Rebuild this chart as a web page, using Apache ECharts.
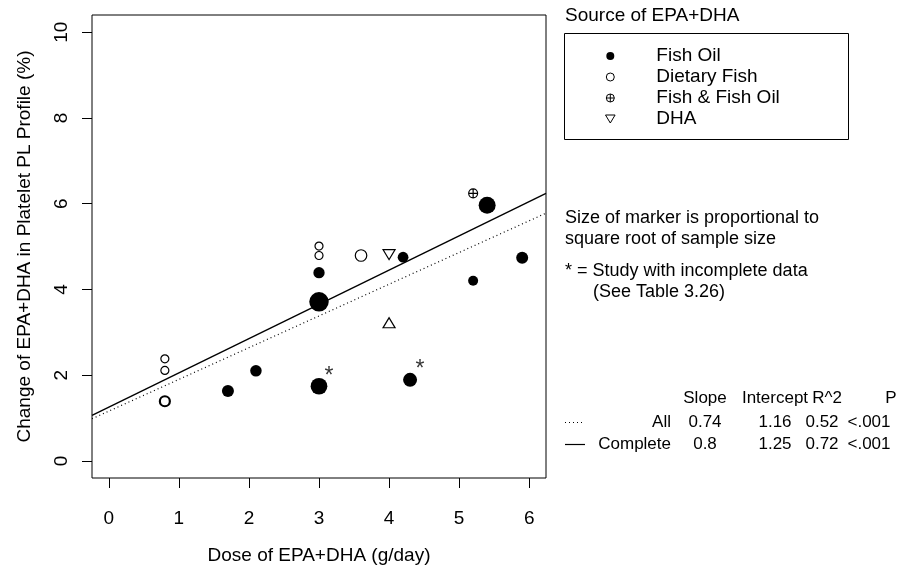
<!DOCTYPE html>
<html lang="en">
<head>
<meta charset="UTF-8">
<title>EPA+DHA dose vs platelet change</title>
<script src="https://cdn.jsdelivr.net/npm/echarts@6.0.0/dist/echarts.min.js"></script>
<style>html,body{margin:0;padding:0;background:#fff;}</style>
</head>
<body>
<div id="main" style="width:911px;height:569px;"></div>
<script>
// tick labels
const xTicks = [0, 1, 2, 3, 4, 5, 6];
const yTicks = [0, 2, 4, 6, 8, 10];

// Fish oil studies: dose (g/day), change (%), sample size
const fishOilX = [5.4, 4.2, 5.9, 5.2, 3.0, 3.0, 1.7, 2.1, 3.0, 4.3];
const fishOilY = [5.96, 4.75, 4.74, 4.20, 4.39, 3.71, 1.63, 2.10, 1.74, 1.89];
const fishOilN = [72, 29, 36, 25, 32, 95, 36, 33, 70, 49];
const fishOilIncomplete = [false, false, false, false, false, false, false, false, true, true];

// Dietary fish studies
const dietX = [3.0, 3.0, 3.6, 0.8, 0.8, 0.8];
const dietY = [5.01, 4.79, 4.79, 2.38, 2.11, 1.39];
const dietN = [16, 16, 33, 16, 16, 25];

// Fish & fish oil
const bothX = [5.2];
const bothY = [6.24];
const bothN = [20];

// DHA (down triangle) and the one up-triangle study
const dhaX = [4.0];
const dhaY = [4.81];
const otherX = [4.0];
const otherY = [3.22];

// regression table
const regNames = ['All', 'Complete'];
const regSlope = [0.74, 0.8];
const regIntercept = [1.16, 1.25];
const regR2 = ['0.52', '0.72'];
const regP = ['<.001', '<.001'];

const FONT = '"Liberation Sans", Arial, Helvetica, sans-serif';
const FS = 19;       // axis text, legend
const FS_NOTE = 18;  // notes
const FS_TABLE = 17; // regression table
const SIZE_K = 2;    // marker diameter = SIZE_K * sqrt(n)
const BOLD_RING_INDEX = 5;

// R style axis range: 4% padding on each side
const xSpan = xTicks[xTicks.length - 1] - xTicks[0];
const ySpan = yTicks[yTicks.length - 1] - yTicks[0];
const xMin = xTicks[0] - 0.04 * xSpan;
const xMax = xTicks[xTicks.length - 1] + 0.04 * xSpan;
const yMin = yTicks[0] - 0.04 * ySpan;
const yMax = yTicks[yTicks.length - 1] + 0.04 * ySpan;

const zip3 = (xs, ys, ns) => xs.map((x, i) => [x, ys[i], ns ? ns[i] : 1]);
const sizeFn = v => SIZE_K * Math.sqrt(v[2]);

const dietData = zip3(dietX, dietY, dietN).map((v, i) => (
    i === BOLD_RING_INDEX ? { value: v, itemStyle: { borderWidth: 2.2 } } : v
));
const starData = zip3(fishOilX, fishOilY).filter((v, i) => fishOilIncomplete[i]);

// regression lines across the whole plot width
const regLine = k => [[xMin, regIntercept[k] + regSlope[k] * xMin], [xMax, regIntercept[k] + regSlope[k] * xMax]];

const crossCircle = 'path://M10,0A10,10,0,1,1,10,20A10,10,0,1,1,10,0ZM10,0L10,20M0,10L20,10';
const triDown = 'path://M0,0L12,0L6,10Z';
const triUp = 'path://M6,0L12,10L0,10Z';

function txt(x, y, s, align, size, extra) {
    return Object.assign({
        type: 'text', x: x, y: y, silent: true,
        style: { text: s, fill: '#000', font: (size || FS) + 'px ' + FONT,
                 textAlign: align || 'left', align: align || 'left',
                 textVerticalAlign: 'middle', verticalAlign: 'middle' }
    }, extra || {});
}

const graphics = [
    txt(319, 556, 'Dose of EPA+DHA (g/day)', 'center'),
    txt(25, 246.5, 'Change of EPA+DHA in Platelet PL Profile (%)', 'center', FS, { rotation: Math.PI / 2 }),
    txt(565, 16, 'Source of EPA+DHA'),
    { type: 'rect', silent: true, shape: { x: 564.5, y: 33.5, width: 284, height: 106 },
      style: { fill: 'none', stroke: '#000', lineWidth: 1 } },
    txt(565, 218.5, 'Size of marker is proportional to', 'left', FS_NOTE),
    txt(565, 239.5, 'square root of sample size', 'left', FS_NOTE),
    txt(565, 271.5, '* = Study with incomplete data', 'left', FS_NOTE),
    txt(593, 292.5, '(See Table 3.26)', 'left', FS_NOTE),
    // table header
    txt(705, 398, 'Slope', 'center', FS_TABLE),
    txt(775, 398, 'Intercept', 'center', FS_TABLE),
    txt(827, 398, 'R^2', 'center', FS_TABLE),
    txt(891, 398, 'P', 'center', FS_TABLE),
    { type: 'line', silent: true, shape: { x1: 565, y1: 422.5, x2: 583, y2: 422.5 },
      style: { stroke: '#000', lineWidth: 1, lineDash: [1, 3] } },
    { type: 'line', silent: true, shape: { x1: 565, y1: 444.5, x2: 585, y2: 444.5 },
      style: { stroke: '#000', lineWidth: 1.2 } }
];
const rowY = [422, 444];
regNames.forEach((name, k) => {
    graphics.push(txt(671, rowY[k], name, 'right', FS_TABLE));
    graphics.push(txt(705, rowY[k], String(regSlope[k]), 'center', FS_TABLE));
    graphics.push(txt(775, rowY[k], regIntercept[k].toFixed(2), 'center', FS_TABLE));
    graphics.push(txt(822, rowY[k], regR2[k], 'center', FS_TABLE));
    graphics.push(txt(869, rowY[k], regP[k], 'center', FS_TABLE));
});

const myChart = echarts.init(document.getElementById('main'), null, { renderer: 'canvas' });

const openStyle = { color: 'transparent', borderColor: '#000', borderWidth: 1.2, opacity: 1 };

myChart.setOption({
    animation: false,
    backgroundColor: '#fff',
    textStyle: { fontFamily: FONT },
    grid: { left: 92, top: 15, right: 365, bottom: 91, show: true,
            borderColor: '#000', borderWidth: 1, backgroundColor: 'transparent' },
    xAxis: {
        type: 'value', min: xMin, max: xMax,
        splitLine: { show: false },
        axisLine: { show: false, onZero: false },
        axisTick: { show: true, inside: false, length: 10, customValues: xTicks,
                    lineStyle: { color: '#000', width: 1 } },
        axisLabel: { customValues: xTicks, margin: 31, color: '#000', fontSize: FS, fontFamily: FONT }
    },
    yAxis: {
        type: 'value', min: yMin, max: yMax,
        splitLine: { show: false },
        axisLine: { show: false, onZero: false },
        axisTick: { show: true, inside: false, length: 10, customValues: yTicks,
                    lineStyle: { color: '#000', width: 1 } },
        axisLabel: { customValues: yTicks, rotate: 90, margin: 21, color: '#000', fontSize: FS, fontFamily: FONT }
    },
    legend: {
        orient: 'vertical', left: 605, top: 45.5, padding: 0, itemGap: 0,
        itemWidth: 10, itemHeight: 8,
        textStyle: { color: '#000', fontSize: FS, fontFamily: FONT, lineHeight: 21, padding: [0, 0, 0, 36] },
        selectedMode: false,
        data: [
            { name: 'Fish Oil', itemStyle: { color: '#000', borderWidth: 0, opacity: 1 } },
            { name: 'Dietary Fish', itemStyle: { color: 'transparent', borderColor: '#000', borderWidth: 1, opacity: 1 } },
            { name: 'Fish & Fish Oil', itemStyle: { color: 'transparent', borderColor: '#000', borderWidth: 1, opacity: 1 } },
            { name: 'DHA', itemStyle: { color: 'transparent', borderColor: '#000', borderWidth: 1, opacity: 1 } }
        ]
    },
    graphic: { elements: graphics },
    series: [
        { name: 'All fit', type: 'line', data: regLine(0), showSymbol: false, silent: true,
          lineStyle: { color: '#000', width: 1.2, type: [1, 3] }, z: 1 },
        { name: 'Complete fit', type: 'line', data: regLine(1), showSymbol: false, silent: true,
          lineStyle: { color: '#000', width: 1.4 }, z: 1 },
        { name: 'Fish Oil', type: 'scatter', data: zip3(fishOilX, fishOilY, fishOilN),
          symbol: 'circle', symbolSize: sizeFn, itemStyle: { color: '#000', opacity: 1 }, z: 3 },
        { name: 'Dietary Fish', type: 'scatter', data: dietData,
          symbol: 'circle', symbolSize: sizeFn, itemStyle: openStyle, z: 3 },
        { name: 'Fish & Fish Oil', type: 'scatter', data: zip3(bothX, bothY, bothN),
          symbol: crossCircle, symbolSize: sizeFn, itemStyle: openStyle, z: 3 },
        { name: 'DHA', type: 'scatter', data: zip3(dhaX, dhaY),
          symbol: triDown, symbolSize: [12, 10], itemStyle: openStyle, z: 3 },
        { name: 'Other', type: 'scatter', data: zip3(otherX, otherY),
          symbol: triUp, symbolSize: [12, 10], itemStyle: openStyle, z: 3 },
        { name: 'Incomplete', type: 'scatter', data: starData, symbolSize: 1,
          itemStyle: { color: 'transparent' }, silent: true, z: 4,
          label: { show: true, formatter: '*', position: 'inside', offset: [10, -10],
                   color: '#000', fontSize: 23, fontFamily: FONT } }
    ]
});
</script>
</body>
</html>
